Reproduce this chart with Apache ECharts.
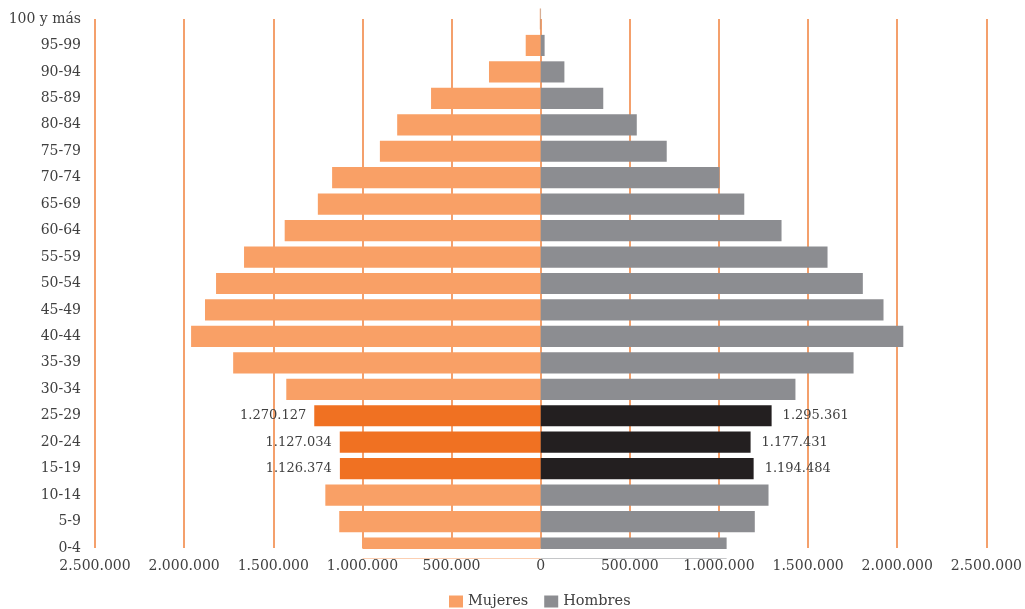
<!DOCTYPE html>
<html>
<head>
<meta charset="utf-8">
<script src="https://cdn.jsdelivr.net/npm/echarts@6/dist/echarts.min.js"></script>
<style>
html,body{margin:0;padding:0;background:#fff;}
#chart{width:1025px;height:609px;}
</style>
</head>
<body>
<div id="chart"></div>
<script>
const categories = ['0-4','5-9','10-14','15-19','20-24','25-29','30-34','35-39','40-44','45-49','50-54','55-59','60-64','65-69','70-74','75-79','80-84','85-89','90-94','95-99','100 y más'];
const mujeres = [1000000,1130000,1208000,1126374,1127034,1270127,1427000,1725000,1961000,1883000,1821000,1664000,1436000,1250000,1170000,902000,805000,615000,290000,84000,5000];
const hombres = [1043000,1201000,1278000,1194484,1177431,1295361,1429000,1755000,2034000,1923000,1807000,1609000,1351000,1142000,1003000,707000,539000,351000,133000,22000,2000];
const highlighted = ['15-19','20-24','25-29'];
const xTicks = {min:-2500000, max:2500000, interval:500000};

const fmt = v => Math.abs(v).toString().replace(/\B(?=(\d{3})+(?!\d))/g, '.');
const FONT = 'DejaVu Serif';
const TXT = '#404040';

const mujData = categories.map((c,i) => {
  const hi = highlighted.includes(c);
  return {
    value: -mujeres[i],
    itemStyle: {color: hi ? '#F07122' : '#F9A066'},
    label: hi ? {show:true, position:'left', distance:8, formatter: p => fmt(p.value), color:TXT, fontFamily:FONT, fontSize:13} : {show:false}
  };
});
const homData = categories.map((c,i) => {
  const hi = highlighted.includes(c);
  return {
    value: hombres[i],
    itemStyle: {color: hi ? '#231F20' : '#8C8D91'},
    label: hi ? {show:true, position:'right', distance:11, formatter: p => fmt(p.value), color:TXT, fontFamily:FONT, fontSize:13} : {show:false}
  };
});

const chart = echarts.init(document.getElementById('chart'), null, {renderer:'canvas'});
chart.setOption({
  animation:false,
  backgroundColor:'#fff',
  textStyle:{fontFamily:FONT},
  grid:{left:95, right:37, top:19, bottom:61, containLabel:false},
  legend:{
    top:589, left:444, itemWidth:14, itemHeight:12, itemGap:16, icon:'rect',
    textStyle:{color:TXT, fontFamily:FONT, fontSize:14.5},
    data:[{name:'Mujeres', itemStyle:{color:'#F9A066'}},{name:'Hombres', itemStyle:{color:'#8C8D91'}}]
  },
  graphic:[{
    type:'rect', z:100, silent:true,
    shape:{x:90, y:549, width:905, height:9},
    style:{fill:'#fff'}
  }],
  xAxis:{
    type:'value', min:xTicks.min, max:xTicks.max, interval:xTicks.interval,
    axisLine:{show:false}, axisTick:{show:false},
    splitLine:{show:true, lineStyle:{color:'#F4A06C', width:2}},
    axisLabel:{formatter:fmt, color:TXT, fontFamily:FONT, fontSize:14, margin:11}
  },
  yAxis:{
    type:'category', data:categories, boundaryGap:false,
    position:'left',
    axisLine:{show:false, onZero:false}, axisTick:{show:false},
    splitLine:{show:false},
    axisLabel:{color:TXT, fontFamily:FONT, fontSize:14, margin:14}
  },
  series:[
    {name:'Mujeres', type:'bar', data:mujData, barWidth:'80%', barGap:'-100%'},
    {name:'Hombres', type:'bar', data:homData, barWidth:'80%', barGap:'-100%'}
  ]
});
</script>
</body>
</html>
